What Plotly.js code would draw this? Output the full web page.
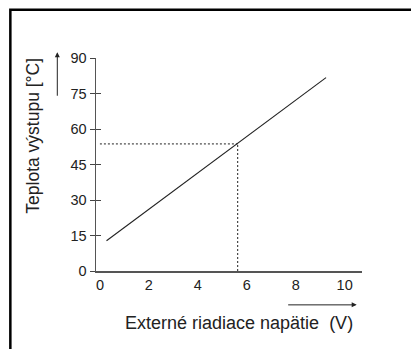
<!DOCTYPE html>
<html>
<head>
<meta charset="utf-8">
<script src="https://cdn.plot.ly/plotly-3.0.1.min.js"></script>
<style>
html,body{margin:0;padding:0;background:#fff;}
#chart{width:411px;height:349px;}
</style>
</head>
<body>
<div id="chart"></div>
<script>
// Data
var lineX = [0.27, 9.24];
var lineY = [12.8, 81.7];
var markX = 5.63;
var markY = 53.7;
var xTicks = [0, 2, 4, 6, 8, 10];
var yTicks = [0, 15, 30, 45, 60, 75, 90];
var xTitle = "Externé riadiace napätie\u00a0 (V)";
var yTitle = "Teplota výstupu [°C]";

var FONT = "Liberation Sans, Arial, sans-serif";
var traces = [
  {x: lineX, y: lineY, mode: "lines", line: {color: "#222", width: 1.1}, hoverinfo: "skip", showlegend: false},
  {x: [0, markX], y: [markY, markY], mode: "lines", line: {color: "#222", width: 1, dash: "2px,2px"}, hoverinfo: "skip", showlegend: false},
  {x: [markX, markX], y: [0, markY], mode: "lines", line: {color: "#222", width: 1, dash: "2px,2px"}, hoverinfo: "skip", showlegend: false, yaxis: "y2"}
];

var layout = {
  width: 411, height: 349,
  margin: {l: 96, r: 49, t: 57.5, b: 78},
  paper_bgcolor: "#fff", plot_bgcolor: "#fff",
  font: {family: FONT, size: 14.5, color: "#222"},
  showlegend: false,
  xaxis: {
    range: [-0.16, 10.71], tickvals: xTicks, ticktext: xTicks.map(String),
    showgrid: false, zeroline: false, showline: true, linecolor: "#555", linewidth: 1.5,
    ticks: "", tickfont: {family: FONT, size: 14.5, color: "#222"}, fixedrange: true
  },
  yaxis: {
    range: [0, 90], tickvals: yTicks, ticktext: yTicks.map(String),
    showgrid: false, zeroline: false, showline: true, linecolor: "#555", linewidth: 1.5,
    ticks: "outside", ticklen: 5, tickwidth: 1, tickcolor: "#444",
    tickfont: {family: FONT, size: 14.5, color: "#222"}, fixedrange: true
  },
  yaxis2: {
    range: [0, 90], overlaying: "y", side: "left", tickvals: yTicks,
    showgrid: false, zeroline: false, showline: false, showticklabels: false,
    ticks: "inside", ticklen: 5, tickwidth: 1, tickcolor: "#444", fixedrange: true
  },
  annotations: [
    {xref: "paper", yref: "paper", x: 0.536, y: -0.2436, text: xTitle, showarrow: false,
     font: {family: FONT, size: 18, color: "#222"}, xanchor: "center", yanchor: "middle"},
    {xref: "paper", yref: "paper", x: -0.237, y: 0.635, text: yTitle, showarrow: false, textangle: -90,
     font: {family: FONT, size: 17.5, color: "#222"}, xanchor: "center", yanchor: "middle"},
    {xref: "paper", yref: "paper", x: -0.1455, y: 1.027, text: "", showarrow: true,
     ax: 0, ay: 45, axref: "pixel", ayref: "pixel", arrowhead: 2, arrowsize: 1, arrowwidth: 1, arrowcolor: "#222", standoff: 0},
    {xref: "paper", yref: "paper", x: 0.980, y: -0.159, text: "", showarrow: true,
     ax: -70, ay: 0, axref: "pixel", ayref: "pixel", arrowhead: 2, arrowsize: 1, arrowwidth: 1, arrowcolor: "#222", standoff: 0}
  ],
  shapes: [
    {type: "rect", xref: "paper", yref: "paper", x0: -0.322, x1: 1.3, y0: -0.5, y1: 1.2262,
     line: {color: "#000", width: 2.5}, fillcolor: "rgba(0,0,0,0)", layer: "below"}
  ]
};

Plotly.newPlot("chart", traces, layout, {displayModeBar: false, staticPlot: true});
</script>
</body>
</html>
